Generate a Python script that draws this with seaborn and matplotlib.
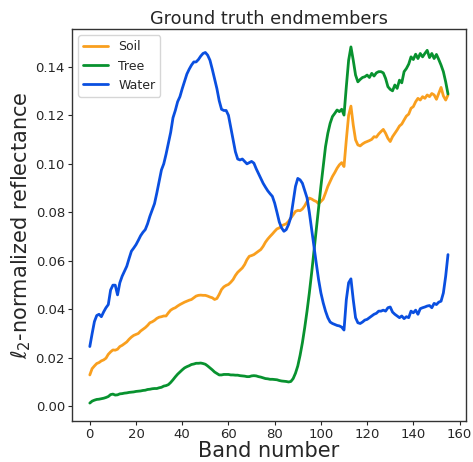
import numpy as np
import pandas as pd
import matplotlib
matplotlib.use('Agg')
import matplotlib.pyplot as plt
import seaborn as sns

# --- Data ---
bands = np.arange(156)

soil = [
    0.0130, 0.0156, 0.0167, 0.0177, 0.0181, 0.0188, 0.0192, 0.0199, 0.0215, 0.0225,
    0.0233, 0.0232, 0.0236, 0.0247, 0.0252, 0.0259, 0.0266, 0.0277, 0.0286, 0.0293,
    0.0297, 0.0301, 0.0311, 0.0318, 0.0325, 0.0334, 0.0345, 0.0349, 0.0355, 0.0363,
    0.0368, 0.0370, 0.0373, 0.0373, 0.0386, 0.0397, 0.0403, 0.0407, 0.0414, 0.0420,
    0.0425, 0.0430, 0.0434, 0.0438, 0.0441, 0.0448, 0.0455, 0.0458, 0.0459, 0.0458,
    0.0458, 0.0455, 0.0451, 0.0448, 0.0441, 0.0445, 0.0462, 0.0482, 0.0493, 0.0499,
    0.0503, 0.0512, 0.0523, 0.0540, 0.0553, 0.0562, 0.0571, 0.0585, 0.0605, 0.0619,
    0.0622, 0.0626, 0.0633, 0.0640, 0.0647, 0.0660, 0.0677, 0.0690, 0.0701, 0.0711,
    0.0722, 0.0732, 0.0736, 0.0745, 0.0749, 0.0753, 0.0763, 0.0777, 0.0790, 0.0804,
    0.0808, 0.0807, 0.0814, 0.0827, 0.0845, 0.0859, 0.0855, 0.0849, 0.0845, 0.0836,
    0.0845, 0.0855, 0.0880, 0.0907, 0.0927, 0.0948, 0.0964, 0.0982, 0.0996, 0.1005,
    0.0989, 0.1099, 0.1200, 0.1238, 0.1160, 0.1099, 0.1078, 0.1074, 0.1082, 0.1088,
    0.1092, 0.1096, 0.1101, 0.1112, 0.1110, 0.1123, 0.1133, 0.1142, 0.1126, 0.1105,
    0.1092, 0.1112, 0.1126, 0.1140, 0.1156, 0.1164, 0.1181, 0.1197, 0.1205, 0.1229,
    0.1236, 0.1256, 0.1270, 0.1263, 0.1277, 0.1270, 0.1284, 0.1277, 0.1290, 0.1284,
    0.1266, 0.1290, 0.1315, 0.1280, 0.1263, 0.1284,
]

tree = [
    0.0014, 0.0022, 0.0026, 0.0029, 0.0030, 0.0032, 0.0034, 0.0037, 0.0041, 0.0049,
    0.0051, 0.0047, 0.0048, 0.0052, 0.0053, 0.0055, 0.0056, 0.0058, 0.0059, 0.0060,
    0.0062, 0.0063, 0.0064, 0.0066, 0.0067, 0.0070, 0.0071, 0.0073, 0.0074, 0.0074,
    0.0077, 0.0079, 0.0084, 0.0086, 0.0090, 0.0099, 0.0110, 0.0122, 0.0133, 0.0142,
    0.0151, 0.0159, 0.0164, 0.0168, 0.0173, 0.0175, 0.0178, 0.0178, 0.0179, 0.0177,
    0.0174, 0.0167, 0.0159, 0.0151, 0.0142, 0.0136, 0.0130, 0.0130, 0.0132, 0.0132,
    0.0132, 0.0130, 0.0130, 0.0129, 0.0129, 0.0127, 0.0126, 0.0125, 0.0123, 0.0123,
    0.0126, 0.0127, 0.0126, 0.0123, 0.0121, 0.0118, 0.0115, 0.0114, 0.0112, 0.0112,
    0.0111, 0.0110, 0.0107, 0.0105, 0.0104, 0.0103, 0.0101, 0.0103, 0.0115, 0.0137,
    0.0167, 0.0211, 0.0263, 0.0325, 0.0393, 0.0468, 0.0551, 0.0640, 0.0729, 0.0818,
    0.0907, 0.0989, 0.1071, 0.1126, 0.1167, 0.1195, 0.1208, 0.1222, 0.1215, 0.1225,
    0.1201, 0.1318, 0.1427, 0.1482, 0.1427, 0.1366, 0.1338, 0.1348, 0.1356, 0.1359,
    0.1366, 0.1356, 0.1373, 0.1362, 0.1375, 0.1380, 0.1380, 0.1375, 0.1352, 0.1318,
    0.1307, 0.1301, 0.1325, 0.1311, 0.1345, 0.1334, 0.1380, 0.1393, 0.1411, 0.1441,
    0.1430, 0.1452, 0.1434, 0.1455, 0.1441, 0.1455, 0.1468, 0.1438, 0.1455, 0.1434,
    0.1451, 0.1430, 0.1407, 0.1380, 0.1338, 0.1288,
]

water = [
    0.0247, 0.0300, 0.0350, 0.0375, 0.0380, 0.0370, 0.0390, 0.0407, 0.0420, 0.0480,
    0.0500, 0.0500, 0.0460, 0.0510, 0.0537, 0.0557, 0.0578, 0.0610, 0.0640, 0.0653,
    0.0667, 0.0685, 0.0704, 0.0718, 0.0729, 0.0753, 0.0784, 0.0810, 0.0836, 0.0880,
    0.0927, 0.0975, 0.1000, 0.1040, 0.1085, 0.1130, 0.1190, 0.1220, 0.1256, 0.1277,
    0.1310, 0.1340, 0.1370, 0.1390, 0.1407, 0.1420, 0.1420, 0.1430, 0.1444, 0.1455,
    0.1459, 0.1448, 0.1427, 0.1390, 0.1350, 0.1310, 0.1260, 0.1225, 0.1220, 0.1220,
    0.1200, 0.1150, 0.1100, 0.1050, 0.1020, 0.1016, 0.1020, 0.1010, 0.1000, 0.1005,
    0.1010, 0.1003, 0.0980, 0.0960, 0.0940, 0.0920, 0.0904, 0.0889, 0.0877, 0.0866,
    0.0838, 0.0800, 0.0760, 0.0736, 0.0722, 0.0729, 0.0750, 0.0780, 0.0845, 0.0907,
    0.0940, 0.0934, 0.0920, 0.0890, 0.0860, 0.0800, 0.0729, 0.0660, 0.0590, 0.0523,
    0.0468, 0.0427, 0.0393, 0.0366, 0.0348, 0.0342, 0.0338, 0.0334, 0.0332, 0.0327,
    0.0315, 0.0440, 0.0510, 0.0526, 0.0440, 0.0366, 0.0345, 0.0342, 0.0348, 0.0356,
    0.0359, 0.0366, 0.0373, 0.0380, 0.0384, 0.0393, 0.0393, 0.0397, 0.0393, 0.0407,
    0.0410, 0.0389, 0.0380, 0.0373, 0.0366, 0.0373, 0.0362, 0.0370, 0.0366, 0.0393,
    0.0386, 0.0397, 0.0380, 0.0403, 0.0407, 0.0410, 0.0414, 0.0416, 0.0407, 0.0425,
    0.0420, 0.0430, 0.0434, 0.0468, 0.0537, 0.0626,
]

names = ['Soil', 'Tree', 'Water']
colors = ['#f99f1e', '#08922f', '#0a4fe0']

# --- Style ---
sns.set_style("ticks")
plt.rcParams['font.family'] = ['DejaVu Sans']

fig = plt.figure(figsize=(4.73, 4.62), dpi=100)
ax = fig.add_axes([0.152, 0.089, 0.833, 0.848])

for name, vals, c in zip(names, [soil, tree, water], colors):
    sns.lineplot(x=bands, y=vals, ax=ax, color=c, label=name, linewidth=2)

ax.set_title("Ground truth endmembers", fontsize=12.7, pad=4)
ax.set_xlabel("Band number", fontsize=15, labelpad=0)
ax.set_ylabel(r"$\ell_2$-normalized reflectance", fontsize=15, labelpad=2)
ax.tick_params(labelsize=9.5, length=3, width=0.8, pad=2)
ax.set_xticks(np.arange(0, 161, 20))
ax.set_yticks(np.arange(0, 0.141, 0.02))
for s in ax.spines.values():
    s.set_color('#333333')
    s.set_linewidth(1.0)
ax.legend(loc='upper left', fontsize=9)

fig.savefig('out.png', dpi=100)
